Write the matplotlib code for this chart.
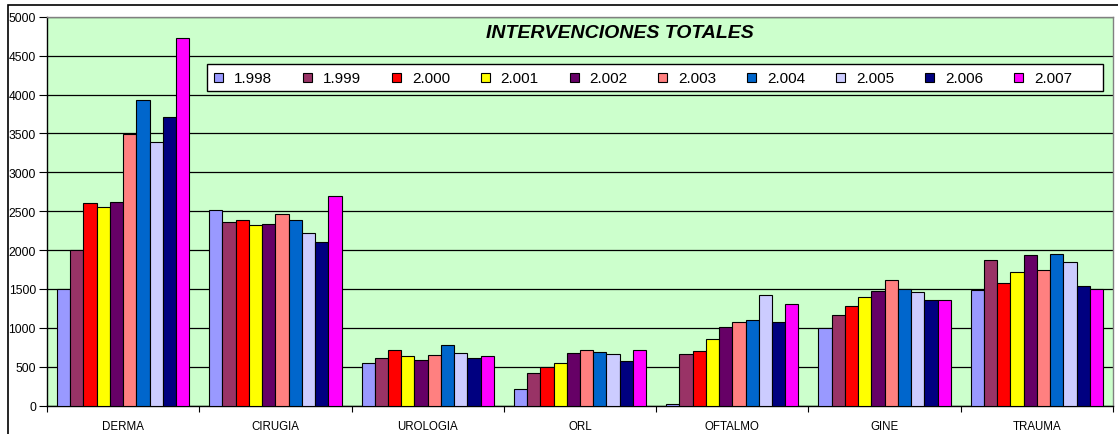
import matplotlib
matplotlib.use("Agg")
import matplotlib.pyplot as plt
import numpy as np
from matplotlib.patches import Rectangle

categories = ["DERMA", "CIRUGIA", "UROLOGIA", "ORL", "OFTALMO", "GINE", "TRAUMA"]
years = ["1.998", "1.999", "2.000", "2.001", "2.002", "2.003", "2.004", "2.005", "2.006", "2.007"]

v1998 = [1500, 2513, 545, 210, 25, 995, 1488]
v1999 = [1995, 2366, 613, 420, 660, 1166, 1874]
v2000 = [2611, 2384, 716, 501, 699, 1282, 1574]
v2001 = [2551, 2320, 635, 545, 861, 1398, 1715]
v2002 = [2623, 2337, 588, 673, 1008, 1471, 1934]
v2003 = [3494, 2465, 648, 720, 1076, 1612, 1745]
v2004 = [3931, 2384, 776, 690, 1102, 1497, 1947]
v2005 = [3395, 2221, 673, 660, 1423, 1458, 1848]
v2006 = [3713, 2105, 613, 570, 1076, 1355, 1543]
v2007 = [4725, 2697, 635, 716, 1308, 1355, 1497]
series = [v1998, v1999, v2000, v2001, v2002, v2003, v2004, v2005, v2006, v2007]

colors = ["#9999FF", "#993366", "#FF0000", "#FFFF00", "#660066",
          "#FF8080", "#0066CC", "#CCCCFF", "#000080", "#FF00FF"]

plt.rcParams['font.family'] = ['Liberation Sans', 'DejaVu Sans']

W, H = 1118, 435
fig = plt.figure(figsize=(W / 100, H / 100), dpi=100)
fig.patch.set_facecolor("white")


def fx(px):
    return px / W


def fy(py):
    return 1 - py / H


# outer chart border (cut off at right and bottom)
fig.patches.append(Rectangle((fx(8), -0.1), 1.2, fy(6) + 0.1, transform=fig.transFigure,
                             fill=False, edgecolor="black", linewidth=1.2))

left, right = 47, 1113
top, bottom = 17.7, 406.7
ax = fig.add_axes([fx(left), fy(bottom), (right - left) / W, (bottom - top) / H])
ax.set_facecolor("#CCFFCC")

n = len(series)
group = 0.869
bw = group / n
x = np.arange(len(categories))
for i, (vals, c) in enumerate(zip(series, colors)):
    ax.bar(x - group / 2 + bw * (i + 0.5), vals, width=bw, color=c,
           edgecolor="black", linewidth=0.8, label=years[i], zorder=3)

ax.set_xlim(-0.5, len(categories) - 0.5)
ax.set_ylim(0, 5000)
ax.set_yticks(np.arange(0, 5001, 500))
ax.yaxis.grid(True, color="black", linewidth=0.9, zorder=0)
ax.set_axisbelow(True)

ax.set_xticks(x)
ax.set_xticklabels(categories, fontsize=8.3)
ax.set_xticks(np.arange(-0.5, len(categories) + 0.5, 1), minor=True)
ax.tick_params(axis="x", which="major", length=0, pad=10)
ax.tick_params(axis="x", which="minor", length=4, width=0.8, color="black", direction="out")
ax.tick_params(axis="y", labelsize=8.7, length=6, width=0.8, direction="out", pad=2)

for s in ["left", "bottom"]:
    ax.spines[s].set_color("black")
    ax.spines[s].set_linewidth(1.0)
for s in ["top", "right"]:
    ax.spines[s].set_color("#808080")
    ax.spines[s].set_linewidth(1.0)

fig.text(fx(620), fy(34), "INTERVENCIONES TOTALES", fontsize=14,
         fontweight="bold", fontstyle="italic", ha="center", va="center")

# legend (drawn manually in pixel positions)
fig.patches.append(Rectangle((fx(207), fy(92)), (1103 - 207) / W, (92 - 65) / H,
                             transform=fig.transFigure, facecolor="white",
                             edgecolor="black", linewidth=1.0, zorder=5))
step = 88.9
ycen = 78.7
msize = 9
for i, (lab, c) in enumerate(zip(years, colors)):
    mx = 214 + step * i
    fig.patches.append(Rectangle((fx(mx), fy(ycen + msize / 2)), msize / W, msize / H,
                                 transform=fig.transFigure, facecolor=c,
                                 edgecolor="black", linewidth=0.8, zorder=6))
    fig.text(fx(mx + 20), fy(ycen), lab, fontsize=11, ha="left", va="center", zorder=6)

fig.savefig("out.png", dpi=100)
